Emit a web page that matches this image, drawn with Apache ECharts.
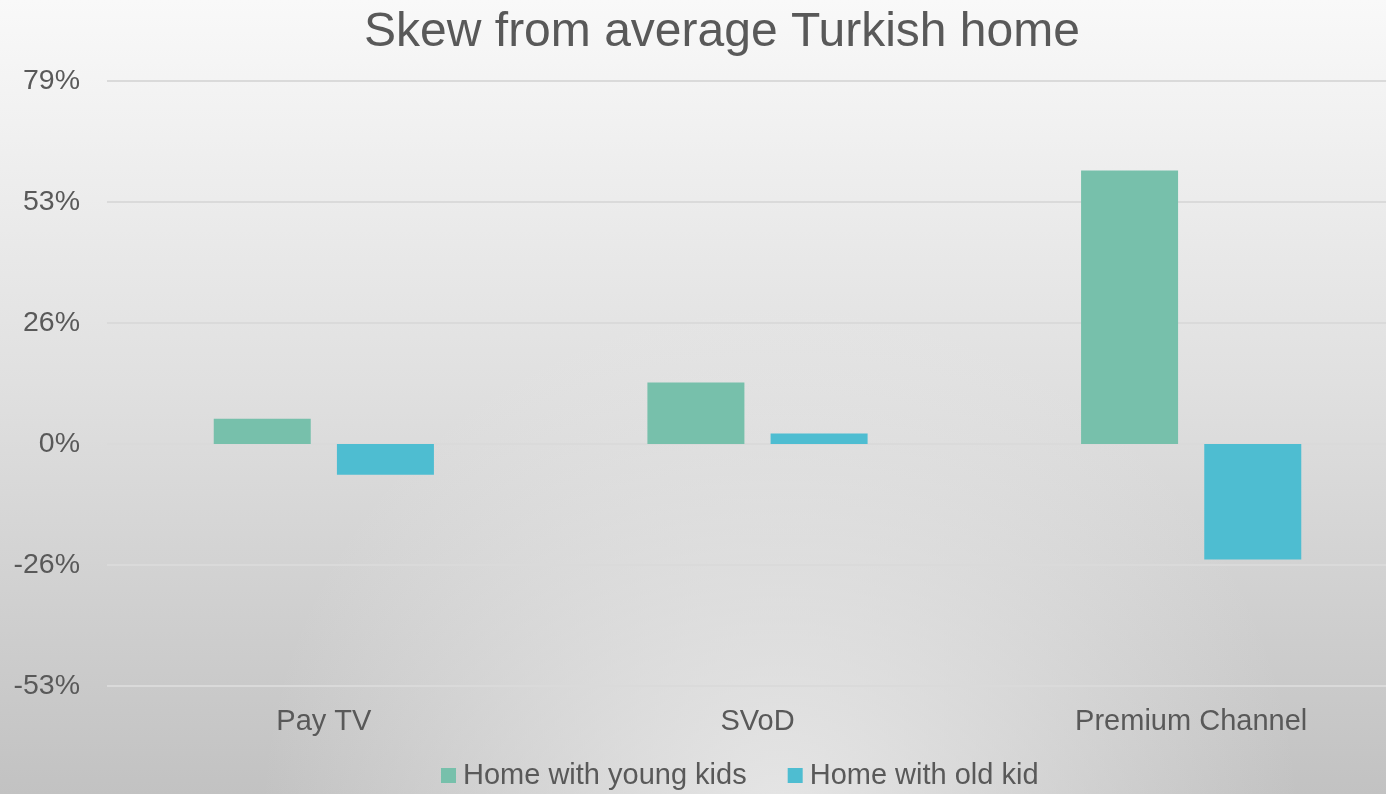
<!DOCTYPE html>
<html>
<head>
<meta charset="utf-8">
<title>Skew from average Turkish home</title>
<script src="https://cdn.jsdelivr.net/npm/echarts@6/dist/echarts.min.js"></script>
<style>
  html, body { margin: 0; padding: 0; }
  #chart { width: 1386px; height: 794px; }
</style>
</head>
<body>
<div id="chart"></div>
<script>
// Service categories along the x axis
const categories = ['Pay TV', 'SVoD', 'Premium Channel'];

// Skew (%) from the average Turkish home
const youngKids = [5.5, 13.4, 59.7];
const oldKid = [-6.7, 2.3, -25.2];

const seriesNames = ['Home with young kids', 'Home with old kid'];

// Value axis: six gridlines, labels rounded to whole percent
const axisMin = -52.8;
const axisMax = 79.2;
const axisStep = 26.4;

const TEXT = '#595959';
const FONT = '"Liberation Sans", Arial, sans-serif';

const chart = echarts.init(document.getElementById('chart'), null, { renderer: 'canvas' });

chart.setOption({
  backgroundColor: {
    type: 'linear', x: 0, y: 0, x2: 0, y2: 1,
    colorStops: [
      { offset: 0, color: '#f9f9f9' },
      { offset: 0.5, color: '#dfdfdf' },
      { offset: 1, color: '#c2c2c2' }
    ]
  },
  graphic: [{
    type: 'circle',
    silent: true,
    z: -100,
    shape: { cx: 780, cy: 820, r: 520 },
    style: {
      fill: {
        type: 'radial', x: 0.5, y: 0.5, r: 0.5,
        colorStops: [
          { offset: 0, color: 'rgba(236,236,236,0.85)' },
          { offset: 1, color: 'rgba(236,236,236,0)' }
        ]
      }
    }
  }],
  textStyle: { fontFamily: FONT, color: TEXT },
  title: {
    text: 'Skew from average Turkish home',
    left: 717,
    top: 4,
    textAlign: 'center',
    textStyle: { fontFamily: FONT, fontSize: 48, fontWeight: 'normal', color: TEXT }
  },
  legend: {
    data: seriesNames,
    left: 441,
    top: 761,
    padding: 0,
    itemWidth: 15,
    itemHeight: 15,
    itemGap: 41,
    icon: 'rect',
    textStyle: { fontFamily: FONT, fontSize: 29, color: TEXT, padding: [0, 0, 0, 2] }
  },
  grid: {
    left: 107,
    width: 1301,
    top: 81,
    bottom: 108,
    containLabel: false,
    outerBoundsMode: 'none'
  },
  xAxis: {
    type: 'category',
    data: categories,
    axisLine: { show: false },
    axisTick: { show: false },
    axisLabel: { fontFamily: FONT, fontSize: 29, color: TEXT, margin: 21 },
    splitLine: { show: false }
  },
  yAxis: {
    type: 'value',
    min: axisMin,
    max: axisMax,
    interval: axisStep,
    axisLine: { show: false },
    axisTick: { show: false },
    axisLabel: {
      fontFamily: FONT, fontSize: 28.5, color: TEXT, margin: 27,
      formatter: v => Math.round(v) + '%'
    },
    splitLine: { lineStyle: { color: '#dadada', width: 2 } }
  },
  series: [
    {
      name: seriesNames[0],
      type: 'bar',
      data: youngKids,
      barWidth: 97,
      barGap: '27%',
      itemStyle: { color: '#77c0ab' }
    },
    {
      name: seriesNames[1],
      type: 'bar',
      data: oldKid,
      barWidth: 97,
      barGap: '27%',
      itemStyle: { color: '#4ebdd1' }
    }
  ]
});
</script>
</body>
</html>
